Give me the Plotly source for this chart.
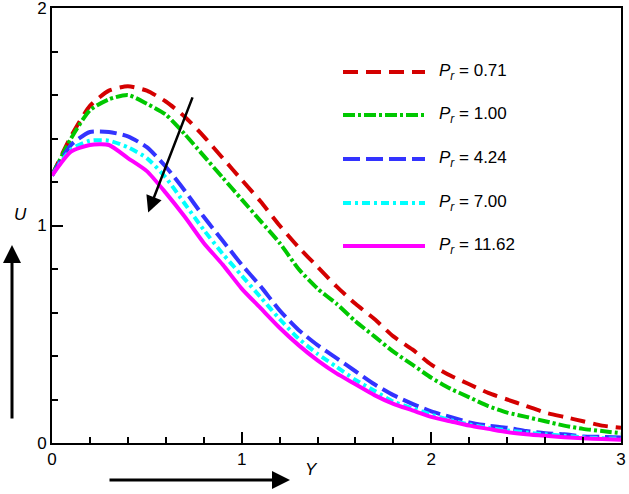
import plotly.graph_objects as go

# ---------------- data ----------------
Y = [0.0, 0.1, 0.2, 0.3, 0.4, 0.5, 0.6, 0.7, 0.8, 0.9, 1.0,
     1.1, 1.2, 1.3, 1.4, 1.5, 1.6, 1.7, 1.8, 1.9, 2.0,
     2.1, 2.2, 2.3, 2.4, 2.5, 2.6, 2.7, 2.8, 2.9, 3.0]

U_071 = [1.23, 1.41, 1.55, 1.62, 1.64, 1.62, 1.57, 1.50, 1.41, 1.31, 1.21,
         1.11, 1.00, 0.90, 0.81, 0.72, 0.64, 0.57, 0.49, 0.43, 0.36,
         0.31, 0.27, 0.23, 0.20, 0.17, 0.14, 0.12, 0.10, 0.08, 0.07]
U_100 = [1.23, 1.40, 1.53, 1.58, 1.60, 1.56, 1.51, 1.42, 1.32, 1.22, 1.12,
         1.02, 0.92, 0.80, 0.71, 0.64, 0.56, 0.49, 0.42, 0.36, 0.30,
         0.25, 0.21, 0.17, 0.14, 0.12, 0.10, 0.08, 0.065, 0.055, 0.045]
U_424 = [1.23, 1.37, 1.43, 1.43, 1.41, 1.36, 1.27, 1.16, 1.04, 0.93, 0.82,
         0.72, 0.61, 0.52, 0.45, 0.39, 0.33, 0.27, 0.22, 0.18, 0.145,
         0.12, 0.095, 0.08, 0.07, 0.055, 0.045, 0.04, 0.03, 0.028, 0.025]
U_700 = [1.23, 1.35, 1.39, 1.39, 1.36, 1.31, 1.22, 1.10, 0.98, 0.87, 0.77,
         0.67, 0.57, 0.48, 0.41, 0.35, 0.29, 0.24, 0.19, 0.16, 0.13,
         0.105, 0.085, 0.07, 0.058, 0.048, 0.04, 0.033, 0.026, 0.022, 0.02]
U_1162 = [1.23, 1.34, 1.37, 1.37, 1.31, 1.25, 1.15, 1.04, 0.92, 0.82, 0.71,
          0.62, 0.53, 0.45, 0.38, 0.32, 0.27, 0.22, 0.18, 0.15, 0.12,
          0.10, 0.08, 0.065, 0.05, 0.04, 0.033, 0.027, 0.022, 0.018, 0.015]

series_labels = ["0.71", "1.00", "4.24", "7.00", "11.62"]
series_values = [U_071, U_100, U_424, U_700, U_1162]
series_colors = ["#d40000", "#00c800", "#3333ff", "#00ffff", "#ff00ff"]
series_dashes = ["15px,8px", "12px,3px,3px,3px", "17px,6px", "8px,4px,3px,4px", "solid"]

x_ticks = [0, 1, 2, 3]
y_ticks = [0, 1, 2]
x_minor = [0.2, 0.4, 0.6, 0.8, 1.2, 1.4, 1.6, 1.8, 2.2, 2.4, 2.6, 2.8]
y_minor = [0.2, 0.4, 0.6, 0.8, 1.2, 1.4, 1.6, 1.8]

# ---------------- figure ----------------
W, H = 629, 494
ML, MR, MT, MB = 52, 8, 8, 51
pw, ph = W - ML - MR, H - MT - MB
FS = 17

def px2paper(px, py):
    return (px - ML) / pw, (H - MB - py) / ph

fig = go.Figure()
for lab, vals, col, dash in zip(series_labels, series_values, series_colors, series_dashes):
    fig.add_trace(go.Scatter(x=Y, y=vals, mode="lines", name=f"Pr = {lab}",
                             line=dict(color=col, width=4, dash=dash, shape="spline", smoothing=0.6),
                             showlegend=False))

# manual legend
shapes = []
annotations = []
leg_y_px = [72, 115, 159, 203, 246]
for lab, col, dash, ly in zip(series_labels, series_colors, series_dashes, leg_y_px):
    x0, yy = px2paper(343, ly)
    x1, _ = px2paper(425, ly)
    shapes.append(dict(type="line", xref="paper", yref="paper", x0=x0, x1=x1, y0=yy, y1=yy,
                       line=dict(color=col, width=4, dash=dash)))
    tx, _ = px2paper(437, ly)
    annotations.append(dict(xref="paper", yref="paper", x=tx, y=yy, xanchor="left", yanchor="middle",
                            text=f"<i>P</i><sub><i>r</i></sub> = {lab}", showarrow=False,
                            font=dict(size=FS, color="black")))

# arrow inside the plot (increasing Pr)
annotations.append(dict(x=0.507, y=1.06, ax=0.744, ay=1.596, xref="x", yref="y",
                        axref="x", ayref="y", showarrow=True, arrowhead=2, arrowsize=1.3,
                        arrowwidth=2.5, arrowcolor="black", text=""))

# horizontal arrow under x axis
hx, hy = px2paper(290, 480)
annotations.append(dict(x=hx, y=hy, xref="paper", yref="paper", ax=-182, ay=0,
                        showarrow=True, arrowhead=2, arrowsize=1.2, arrowwidth=3,
                        arrowcolor="black", text=""))
tx, ty = px2paper(311, 481)
annotations.append(dict(x=tx, y=ty, xref="paper", yref="paper", text="<i>Y</i>", showarrow=False,
                        font=dict(size=FS, color="black")))

# vertical arrow left
vx, vy = px2paper(12, 245)
annotations.append(dict(x=vx, y=vy, xref="paper", yref="paper", ax=0, ay=175,
                        showarrow=True, arrowhead=2, arrowsize=1.2, arrowwidth=3,
                        arrowcolor="black", text=""))
tx, ty = px2paper(12, 215)
annotations.append(dict(x=tx, y=ty, xref="paper", yref="paper", text="<i>U</i>", showarrow=False,
                        font=dict(size=FS, color="black")))

axis_common = dict(showgrid=False, zeroline=False, showline=True, linecolor="black", linewidth=2,
                   mirror=True, ticks="inside", ticklen=11, tickwidth=1.5, tickcolor="black",
                   automargin=False, ticklabeloverflow="allow",
                   tickfont=dict(size=FS, color="black", family="Liberation Sans, Arial, sans-serif"))

fig.update_layout(
    width=W, height=H,
    margin=dict(l=ML, r=MR, t=MT, b=MB, autoexpand=False),
    plot_bgcolor="white", paper_bgcolor="white",
    font=dict(family="Liberation Sans, Arial, sans-serif", color="black"),
    xaxis=dict(range=[0, 3], tickmode="array", tickvals=x_ticks, ticktext=[str(v) for v in x_ticks],
               minor=dict(tickmode="array", tickvals=x_minor, ticks="inside", ticklen=6,
                          tickwidth=1.5, tickcolor="black", showgrid=False),
               **axis_common),
    yaxis=dict(range=[0, 2], tickmode="array", tickvals=y_ticks, ticktext=[str(v) for v in y_ticks],
               minor=dict(tickmode="array", tickvals=y_minor, ticks="inside", ticklen=6,
                          tickwidth=1.5, tickcolor="black", showgrid=False),
               **axis_common),
    shapes=shapes,
    annotations=annotations,
)

fig.write_html("out.html")
